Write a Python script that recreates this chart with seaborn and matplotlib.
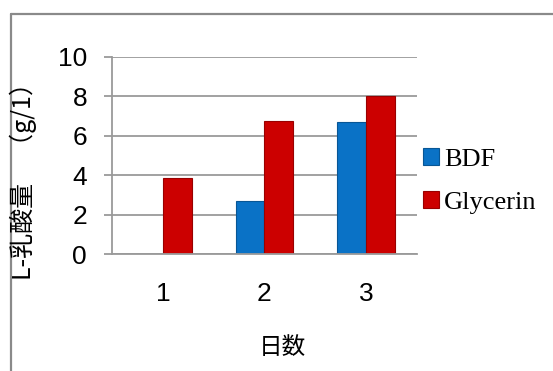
import matplotlib
matplotlib.use("Agg")
import matplotlib.pyplot as plt
from matplotlib.lines import Line2D
import seaborn as sns
import pandas as pd

days = ["1", "2", "3"]
series = ["BDF", "Glycerin"]
bdf = [0.0, 2.7, 6.7]
glycerin = [3.85, 6.75, 8.0]
yticks = [0, 2, 4, 6, 8, 10]
colors = ["#0A72C6", "#CC0000"]

df = pd.DataFrame({
    "day": days * 2,
    "series": [series[0]] * 3 + [series[1]] * 3,
    "value": bdf + glycerin,
})

sns.set_theme(style="white")
plt.rcParams["font.family"] = ["Liberation Sans", "DejaVu Sans"]
plt.rcParams["text.color"] = "black"
plt.rcParams["xtick.color"] = "black"
plt.rcParams["ytick.color"] = "black"

W, H = 553, 371
fig = plt.figure(figsize=(W / 100, H / 100), dpi=100)
ax = fig.add_axes([112 / W, (H - 254) / H, (417 - 112) / W, (254 - 57) / H])

sns.barplot(data=df, x="day", y="value", hue="series", palette=colors,
            width=0.57, ax=ax, legend=True, saturation=1,
            edgecolor="none", linewidth=0)
for p in ax.patches:
    fc = p.get_facecolor()
    p.set_edgecolor(tuple(c * 0.75 for c in fc[:3]) + (1,))
    p.set_linewidth(0.8)

ax.set_ylim(0, 10)
ax.set_xlim(-0.5, 2.5)
ax.set_yticks(yticks)
ax.set_yticklabels([str(v) for v in yticks])
ax.yaxis.grid(True, color="#9a9a9a", linewidth=1.3)
ax.set_axisbelow(True)
for s in ["top", "right"]:
    ax.spines[s].set_visible(False)
ax.spines["left"].set_color("#9a9a9a")
ax.spines["left"].set_linewidth(1.3)
ax.spines["bottom"].set_color("#9a9a9a")
ax.spines["bottom"].set_linewidth(1.3)
ax.tick_params(axis="y", length=6, width=1.3, color="#9a9a9a", pad=12,
               labelsize=19, left=True, labelcolor="black")
ax.tick_params(axis="x", length=0, pad=20, labelsize=19, labelcolor="black")
ax.set_xlabel("")
ax.set_ylabel("")

leg = ax.legend(loc="center left", bbox_to_anchor=(410 / W, 1 - 181 / H),
                bbox_transform=fig.transFigure, frameon=False,
                prop={"family": "Liberation Serif", "size": 19},
                handlelength=0.6, handleheight=0.6, handletextpad=0.2,
                labelspacing=0.75, borderpad=0)
for t in leg.get_texts():
    t.set_color("black")

fig.text(282 / W, 1 - 347 / H, "日数", ha="center", va="center", color="black",
         fontsize=17, family=["Noto Sans CJK JP", "DejaVu Sans"])
fig.text(23 / W, 1 - 175 / H, "L-乳酸量　（g/1）", ha="center", va="center",
         rotation=90, fontsize=18, color="black",
         family=["Noto Sans CJK JP", "DejaVu Sans"])

fig.add_artist(Line2D([11 / W, 11 / W], [0, 1 - 14 / H], transform=fig.transFigure,
                      color="#8a8a8a", linewidth=1.6))
fig.add_artist(Line2D([11 / W, 1], [1 - 14 / H, 1 - 14 / H], transform=fig.transFigure,
                      color="#8a8a8a", linewidth=1.6))

fig.savefig("out.png", dpi=100)
